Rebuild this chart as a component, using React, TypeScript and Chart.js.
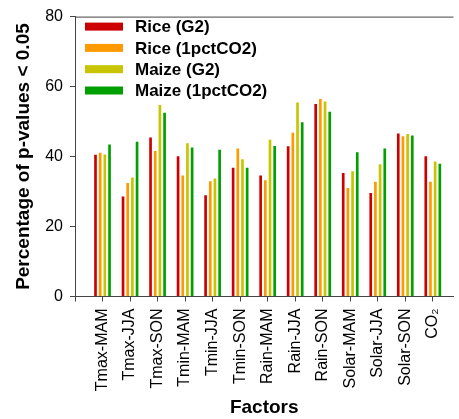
import React, { useEffect, useRef } from "react";
import { Chart, registerables } from "chart.js";

Chart.register(...registerables);

const categories = [
  "Tmax-MAM", "Tmax-JJA", "Tmax-SON", "Tmin-MAM", "Tmin-JJA", "Tmin-SON",
  "Rain-MAM", "Rain-JJA", "Rain-SON", "Solar-MAM", "Solar-JJA", "Solar-SON", "CO\u2082",
];
const seriesNames = ["Rice (G2)", "Rice (1pctCO2)", "Maize (G2)", "Maize (1pctCO2)"];
const riceG2 = [40.8, 28.9, 45.7, 40.4, 29.2, 37.1, 34.9, 43.2, 55.3, 35.6, 29.9, 46.9, 40.4];
const rice1pct = [41.4, 32.7, 41.9, 34.9, 33.2, 42.6, 33.5, 47.1, 56.7, 31.3, 33.1, 46.1, 33.1];
const maizeG2 = [40.9, 34.3, 55.0, 44.1, 34.0, 39.5, 45.1, 55.7, 56.0, 36.1, 38.1, 46.7, 38.9];
const maize1pct = [43.7, 44.5, 52.8, 42.9, 42.2, 37.1, 43.3, 50.1, 53.1, 41.5, 42.6, 46.3, 38.2];
const yTicks = [0, 20, 40, 60, 80];

const colors = ["#cc0000", "#ff9900", "#c8c400", "#00a000"];
const FONT = "'Liberation Sans', Arial, sans-serif";

export default function App() {
  const ref = useRef<HTMLCanvasElement | null>(null);

  useEffect(() => {
    if (!ref.current) return;
    const all = [riceG2, rice1pct, maizeG2, maize1pct];
    const legendPlugin = {
      id: "customLegend",
      afterDraw(chart: any) {
        const { ctx, chartArea } = chart;
        ctx.save();
        // top frame line
        ctx.strokeStyle = "#444";
        ctx.lineWidth = 1;
        ctx.beginPath();
        ctx.moveTo(chartArea.left, chartArea.top + 0.5);
        ctx.lineTo(chartArea.right, chartArea.top + 0.5);
        ctx.stroke();
        ctx.font = `bold 17px ${FONT}`;
        ctx.textBaseline = "middle";
        ctx.textAlign = "left";
        seriesNames.forEach((name, i) => {
          const cy = chartArea.top + 10 + i * 21.3;
          ctx.fillStyle = colors[i];
          ctx.fillRect(chartArea.left + 10, cy - 4, 38, 8);
          ctx.fillStyle = "#000";
          ctx.fillText(name, chartArea.left + 60, cy + 1);
        });
        ctx.restore();
      },
    };
    const chart = new Chart(ref.current, {
      type: "bar",
      data: {
        datasets: all.map((vals, i) => ({
          label: seriesNames[i],
          data: vals.map((v, j) => ({ x: j + 1, y: v })),
          backgroundColor: colors[i],
          borderColor: "rgba(255,255,255,0.3)",
          borderWidth: 1,
          categoryPercentage: 0.68,
          barPercentage: 1.0,
        })),
      },
      options: {
        animation: false,
        responsive: false,
        maintainAspectRatio: false,
        layout: { padding: { top: 14, right: 0, left: 0, bottom: 0 } },
        plugins: { legend: { display: false }, tooltip: { enabled: false } },
        scales: {
          x: {
            type: "linear",
            min: 0,
            max: 13.75,
            offset: false,
            afterBuildTicks: (scale: any) => {
              scale.ticks = [{ value: 0 }].concat(categories.map((_, i) => ({ value: i + 1 })));
            },
            afterFit: (scale: any) => {
              scale.height = 122.5;
            },
            ticks: {
              autoSkip: false,
              maxRotation: 90,
              minRotation: 90,
              padding: 7,
              color: "#000",
              font: { family: FONT, size: 16 },
              callback: (v: any) => (v >= 1 ? categories[Math.round(v) - 1] : ""),
            },
            grid: { offset: false, drawOnChartArea: false, drawTicks: true, tickLength: 5, color: "#444" },
            border: { display: true, color: "#444", width: 1 },
            title: {
              display: true,
              text: "Factors",
              color: "#000",
              font: { family: FONT, size: 19, weight: "bold" },
              padding: { top: 0, bottom: 0 },
            },
          },
          y: {
            min: 0,
            max: 80,
            afterBuildTicks: (scale: any) => {
              scale.ticks = yTicks.map((v) => ({ value: v }));
            },
            afterFit: (scale: any) => {
              scale.width = 75;
            },
            ticks: {
              padding: 7,
              color: "#000",
              font: { family: FONT, size: 16 },
            },
            grid: { drawOnChartArea: false, drawTicks: true, tickLength: 5, color: "#444" },
            border: { display: true, color: "#444", width: 1 },
            title: {
              display: true,
              text: "Percentage of p-values < 0.05",
              color: "#000",
              font: { family: FONT, size: 19, weight: "bold" },
              padding: { top: 12, bottom: 0 },
            },
          },
        },
      },
      plugins: [legendPlugin],
    } as any);
    return () => chart.destroy();
  }, []);

  return (
    <div style={{ position: "fixed", left: 0, top: 0, width: 459, height: 419, background: "#fff" }}>
      <canvas ref={ref} width={459} height={419} style={{ display: "block", width: 459, height: 419 }} />
    </div>
  );
}
